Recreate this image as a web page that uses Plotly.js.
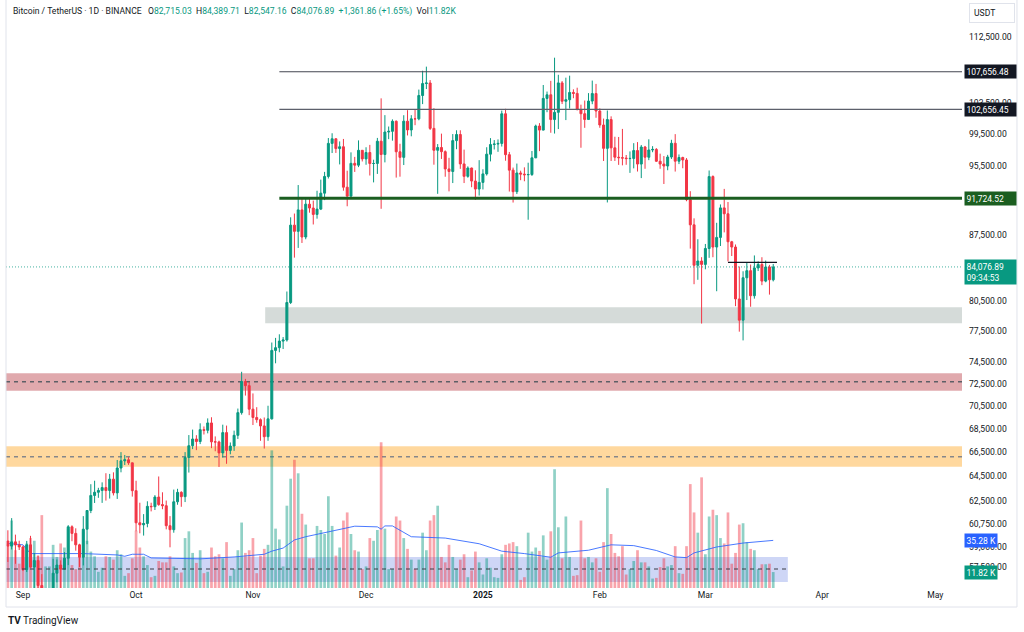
<!DOCTYPE html>
<html>
<head>
<meta charset="utf-8">
<script src="https://cdn.plot.ly/plotly-3.0.1.min.js"></script>
<style>
html,body{margin:0;padding:0;background:#fff;}
#chart{width:1024px;height:632px;}
</style>
</head>
<body>
<div id="chart"></div>
<script>
// ---------- DATA (BTC/USDT, 1D, Binance) ----------
const dates = [
"2024-08-28","2024-08-29","2024-08-30","2024-08-31",
"2024-09-01","2024-09-02","2024-09-03","2024-09-04","2024-09-05","2024-09-06","2024-09-07","2024-09-08","2024-09-09","2024-09-10","2024-09-11","2024-09-12","2024-09-13","2024-09-14","2024-09-15","2024-09-16","2024-09-17","2024-09-18","2024-09-19","2024-09-20","2024-09-21","2024-09-22","2024-09-23","2024-09-24","2024-09-25","2024-09-26","2024-09-27","2024-09-28","2024-09-29","2024-09-30",
"2024-10-01","2024-10-02","2024-10-03","2024-10-04","2024-10-05","2024-10-06","2024-10-07","2024-10-08","2024-10-09","2024-10-10","2024-10-11","2024-10-12","2024-10-13","2024-10-14","2024-10-15","2024-10-16","2024-10-17","2024-10-18","2024-10-19","2024-10-20","2024-10-21","2024-10-22","2024-10-23","2024-10-24","2024-10-25","2024-10-26","2024-10-27","2024-10-28","2024-10-29","2024-10-30","2024-10-31",
"2024-11-01","2024-11-02","2024-11-03","2024-11-04","2024-11-05","2024-11-06","2024-11-07","2024-11-08","2024-11-09","2024-11-10","2024-11-11","2024-11-12","2024-11-13","2024-11-14","2024-11-15","2024-11-16","2024-11-17","2024-11-18","2024-11-19","2024-11-20","2024-11-21","2024-11-22","2024-11-23","2024-11-24","2024-11-25","2024-11-26","2024-11-27","2024-11-28","2024-11-29","2024-11-30",
"2024-12-01","2024-12-02","2024-12-03","2024-12-04","2024-12-05","2024-12-06","2024-12-07","2024-12-08","2024-12-09","2024-12-10","2024-12-11","2024-12-12","2024-12-13","2024-12-14","2024-12-15","2024-12-16","2024-12-17","2024-12-18","2024-12-19","2024-12-20","2024-12-21","2024-12-22","2024-12-23","2024-12-24","2024-12-25","2024-12-26","2024-12-27","2024-12-28","2024-12-29","2024-12-30","2024-12-31",
"2025-01-01","2025-01-02","2025-01-03","2025-01-04","2025-01-05","2025-01-06","2025-01-07","2025-01-08","2025-01-09","2025-01-10","2025-01-11","2025-01-12","2025-01-13","2025-01-14","2025-01-15","2025-01-16","2025-01-17","2025-01-18","2025-01-19","2025-01-20","2025-01-21","2025-01-22","2025-01-23","2025-01-24","2025-01-25","2025-01-26","2025-01-27","2025-01-28","2025-01-29","2025-01-30","2025-01-31",
"2025-02-01","2025-02-02","2025-02-03","2025-02-04","2025-02-05","2025-02-06","2025-02-07","2025-02-08","2025-02-09","2025-02-10","2025-02-11","2025-02-12","2025-02-13","2025-02-14","2025-02-15","2025-02-16","2025-02-17","2025-02-18","2025-02-19","2025-02-20","2025-02-21","2025-02-22","2025-02-23","2025-02-24","2025-02-25","2025-02-26","2025-02-27","2025-02-28",
"2025-03-01","2025-03-02","2025-03-03","2025-03-04","2025-03-05","2025-03-06","2025-03-07","2025-03-08","2025-03-09","2025-03-10","2025-03-11","2025-03-12","2025-03-13","2025-03-14","2025-03-15","2025-03-16","2025-03-17","2025-03-18","2025-03-19"
];
const opens = [
59415,59035,59355,59120,
58974,57301,59132,57487,57971,56160,53962,54160,54869,57042,57635,57338,58132,60498,59993,59132,58213,60313,61759,62947,63201,63348,63578,63339,64262,63152,65173,65769,65858,65602,
63327,60805,60649,60752,62086,62058,62819,62224,62134,60582,60275,62445,63193,62851,66046,67042,67612,67399,68418,68362,69001,67367,67361,66432,68161,66642,67014,67929,69907,72720,72339,
70215,69482,69289,68741,67811,69359,75640,75904,76538,76649,80370,88647,87952,90375,87325,91032,90587,89855,90464,92310,94286,98317,98892,97672,97900,93010,91965,95863,95643,97460,
96407,97185,95840,95849,98587,96945,99740,99831,101109,97276,96593,101125,100003,101424,101420,104464,106058,106133,100204,97461,97805,97291,95186,94881,98663,99429,95792,94299,95300,93738,92792,
93577,94592,96984,98174,98236,98314,102078,96922,95043,92484,94701,94566,94488,94516,96534,100505,99987,104078,104556,101331,102260,106143,103706,103910,104870,104746,102620,102082,101335,103733,104722,
102429,100635,97700,101328,97763,96612,96554,96506,96444,96462,97430,95778,97869,96608,97500,97569,96118,95780,95539,96635,98334,96125,96577,96273,91552,88680,84250,84708,
84349,86064,94270,86220,87281,90606,89931,86801,86222,80734,78595,82932,83680,81066,83969,84343,82579,84075,82715.03
];
const highs = [
60230,61166,59900,59440,
59070,59425,59809,58520,58327,56976,54850,55318,58088,58044,57981,58588,60625,60610,60381,59210,61320,61786,63850,64133,63559,64000,64745,64688,64817,65839,66498,66260,66076,65618,
64130,62371,61477,62484,62370,62975,64478,63200,62543,61320,63417,63480,63285,66500,67950,68424,67939,68969,68694,69400,69500,67836,67470,68850,68771,67317,68332,70270,73620,72961,72700,
71632,70392,69400,69480,70522,76400,76849,77199,76932,81500,89530,89956,93265,91790,91850,91779,91449,92594,93905,94831,98988,99588,98949,98564,98871,94973,97208,96650,98693,97463,
97836,98130,96305,99000,104088,101898,100439,101351,101215,98270,101888,102540,101895,102650,105250,107793,108353,106524,102800,98233,99540,97448,96538,99487,99963,99963,97544,95500,95340,95024,96250,
95150,97839,98976,98734,98813,102482,102724,97258,95349,95836,94977,95378,95940,97371,100681,100873,105865,104988,106422,109588,107240,106394,106850,107120,105286,105500,103260,103800,104782,106457,106012,
102783,101456,102500,101745,99149,99120,100137,96880,97323,98345,98478,98119,98000,98826,97972,97732,97046,96753,96899,98766,99475,96950,96671,96503,92540,89414,87078,85120,
86558,95000,94416,88911,91000,92810,91283,86897,86500,84123,83617,84539,84336,85309,84672,85116,84756,84300,84389.71
];
const lows = [
57860,58786,57726,58745,
57200,57128,57415,55606,55643,52550,53745,53629,54591,56386,55545,57324,57632,59400,58696,57494,57610,59174,61555,62350,62758,62357,62538,62700,62947,62670,64819,65422,65432,62856,
60164,60000,59828,60459,61689,61798,62128,61860,60300,58946,60046,62210,62050,62422,64800,66750,66666,67177,68000,68100,66835,66571,65260,66048,65522,66314,66601,67617,69730,71436,69685,
68820,69020,67458,66800,67458,69298,74416,75466,75773,76492,80216,85072,86127,86668,87073,90056,88722,89376,90357,91500,94040,97122,97136,95734,92600,90791,91792,94827,95407,96092,
95693,94395,93578,94587,90500,95981,98844,98657,94150,94256,95658,99311,99205,100610,101237,103333,105321,100000,95700,92232,96398,94250,92520,93500,97595,95199,93500,94133,93009,91530,92033,
92743,94393,96100,97562,97271,97926,96181,92500,91220,92206,93840,93712,89256,94346,96500,97356,99951,102278,99651,99550,100119,103339,101262,102750,104106,102520,97777,100272,101328,103320,101560,
100279,96150,91231,96150,96155,95676,95620,95688,94713,95256,94876,94088,95205,96252,97223,96040,95205,93389,95030,96400,94871,95771,95270,91371,86050,82256,82716,78258,
83824,85050,85117,81529,86334,87836,84667,85248,80000,77459,76606,80622,79940,80767,83639,82157,82457,81180,82547.16
];
const closes = [
59035,59355,59120,58974,
57301,59132,57487,57971,56160,53962,54160,54869,57042,57635,57338,58132,60498,59993,59132,58213,60313,61759,62947,63201,63348,63578,63339,64262,63152,65173,65769,65858,65602,63327,
60805,60649,60752,62086,62058,62819,62224,62134,60582,60275,62445,63193,62851,66046,67042,67612,67399,68418,68362,69001,67367,67361,66432,68161,66642,67014,67929,69907,72720,72339,70215,
69482,69289,68741,67811,69359,75640,75904,76538,76649,80370,88647,87952,90375,87325,91032,90587,89855,90464,92310,94286,98317,98892,97672,97900,93010,91965,95863,95643,97460,96407,
97185,95840,95849,98587,96945,99740,99831,101109,97276,96593,101125,100003,101424,101420,104464,106058,106133,100204,97461,97805,97291,95186,94881,98663,99429,95792,94299,95300,93738,92792,93577,
94592,96984,98174,98236,98314,102078,96922,95043,92484,94701,94566,94488,94516,96534,100505,99987,104078,104556,101331,102260,106143,103706,103910,104870,104746,102620,102082,101335,103733,104722,102429,
100635,97700,101328,97763,96612,96554,96506,96444,96462,97430,95778,97869,96608,97500,97569,96118,95780,95539,96635,98334,96125,96577,96273,91552,88680,84250,84708,84349,
86064,94270,86220,87281,90606,89931,86801,86222,80734,78595,82932,83680,81066,83969,84343,82579,84075,82715.03,84076.89
];
// volume in thousands of BTC
const volumes = [
33,50,28,18,
28,33,37,35,24,54,16,16,32,23,33,30,44,17,14,27,42,35,27,23.5,12,15,23.5,23,21,28,25,9,11,22,
42.5,30,23.5,17,8,9,20,19,19,23.5,16,11,11.5,37,42,26,18.6,28,11,12,30,23.5,25,22,34,9,14,28,48.5,26,28,
37,11,24,29,32,102,44,36,16,61,81,95,85,55,47,22,22,46,43,40,68,46,24,30,50,56,40,28,27,14,
16,37,35,43,108,44,14,14,53,50,37,29,21,14,21,41,28,50,54,61,23,19,32,23,14,21,25,8,13,27,19,
10,22,15,8,7.5,25,32,33,34,31,6,8,41,27,30,27.5,39,21,42,88,45,22,53,23,9,9.5,50,22,23,19,22,
12,34,74,40,26,23.5,31,10,14,20,28,19,19,16,7,7.5,15.5,22,16,17,31,11,10.5,31,77,56,41,82,
25,53,58,54,37,33,56,18,26,47,48,34,29,28,14,17.6,17.6,18,11.82
];
// volume moving average (thousands)
const maDates = ["2024-08-28","2024-09-01","2024-09-03","2024-09-08","2024-09-17","2024-09-26","2024-09-28","2024-09-30","2024-10-03","2024-10-05","2024-10-10","2024-10-18","2024-10-27","2024-11-04","2024-11-06","2024-11-09","2024-11-12","2024-11-15","2024-11-21","2024-11-28","2024-12-04","2024-12-05","2024-12-06","2024-12-08","2024-12-13","2024-12-22","2024-12-31","2025-01-06","2025-01-12","2025-01-18","2025-01-19","2025-01-21","2025-01-29","2025-02-04","2025-02-10","2025-02-16","2025-02-21","2025-02-24","2025-02-26","2025-03-04","2025-03-11","2025-03-19"];
const maValues = [33,32,25.5,25.5,25.5,24.5,23.5,25,25,22.3,22,21.6,23,25,27.3,29.6,35.6,38,41.6,45.8,45.3,43.6,46,46,38,37,32.8,27.3,25.5,22.8,22.8,26,28,32,31.4,27.8,23,22.5,26,30.4,33.3,35.28];

// price-scale ticks (levels hidden under the price labels are left out) and time-axis ticks
const priceTicks = [57500,59000,60750,62500,64500,66500,68500,70500,72500,74500,77500,80500,87500,95500,99500,103500,112500];
const monthTicks = ["2024-09-01","2024-10-01","2024-11-01","2024-12-01","2025-01-01","2025-02-01","2025-03-01","2025-04-01","2025-05-01"];
const monthLabels = ["Sep","Oct","Nov","Dec","<b>2025</b>","Feb","Mar","Apr","May"];

// drawn levels and zones
const resistanceTop = 107656.48;
const resistanceMid = 102656.45;
const supportLevel = 91724.52;
const shortLevel = 84570;
const grayZone = [78290, 79890];
const redZone = [71880, 73480, 72700];
const orangeZone = [65280, 66990, 66120];
const blueZone = [56410, 58230, 57350];
const remainingTime = "09:34:53";

// ---------- CHART ----------
const UP = '#089981', DOWN = '#f23645', TXT = '#131722';
const FONT = 'Roboto, "Liberation Sans", sans-serif';
const fmt = v => v.toLocaleString('en-US', {minimumFractionDigits: 2, maximumFractionDigits: 2});
const n = closes.length;
const lastClose = closes[n-1];
const prevClose = closes[n-2];
const chg = lastClose - prevClose;
const chgPct = chg / prevClose * 100;

const volColors = closes.map((c, i) => c >= opens[i] ? 'rgba(8,153,129,0.45)' : 'rgba(242,54,69,0.45)');

const traces = [
  {type:'bar', x:dates, y:volumes, xaxis:'x', yaxis:'y', marker:{color:volColors, line:{width:0}},
   width: 0.72*86400000, hoverinfo:'skip'},
  {type:'scatter', mode:'lines', x:maDates, y:maValues, xaxis:'x', yaxis:'y',
   line:{color:'#2962ff', width:1}, opacity:0.85, hoverinfo:'skip'},
  {type:'candlestick', x:dates, open:opens, high:highs, low:lows, close:closes, xaxis:'x', yaxis:'y2',
   increasing:{line:{color:UP, width:1}, fillcolor:UP},
   decreasing:{line:{color:DOWN, width:1}, fillcolor:DOWN},
   whiskerwidth:0, hoverinfo:'skip'}
];

const xStart = '2024-08-27 12:00', xEnd = '2025-05-08 01:40';
function rect(x0, x1, y0, y1, fill) {
  return {type:'rect', xref:'x', yref:'y2', x0:x0, x1:x1, y0:y0, y1:y1, fillcolor:fill, line:{width:0}, layer:'below'};
}
function hline(x0, x1, y, color, width, dash, layer) {
  return {type:'line', xref:'x', yref:'y2', x0:x0, x1:x1, y0:y, y1:y, line:{color:color, width:width, dash:dash||'solid'}, layer:layer||'above'};
}
const rightEdge = xEnd;
const shapes = [
  rect('2024-11-04 06:00', rightEdge, grayZone[0], grayZone[1], 'rgba(178,190,186,0.55)'),
  rect(xStart, rightEdge, redZone[0], redZone[1], 'rgba(178,40,51,0.40)'),
  hline(xStart, rightEdge, redZone[2], '#5d5f66', 1.5, '4px,4px', 'below'),
  rect(xStart, rightEdge, orangeZone[0], orangeZone[1], 'rgba(255,152,0,0.38)'),
  hline(xStart, rightEdge, orangeZone[2], '#85868a', 1.5, '4px,4px', 'below'),
  rect(xStart, '2025-03-22 21:00', blueZone[0], blueZone[1], 'rgba(60,90,220,0.25)'),
  hline(xStart, '2025-03-22 21:00', blueZone[2], '#3a3d46', 1.2, '4px,4px', 'above'),
  hline('2024-11-08', rightEdge, resistanceTop, '#434651', 1.2),
  hline('2024-11-08', rightEdge, resistanceMid, '#5d606b', 1.2),
  hline('2024-11-08', rightEdge, supportLevel, '#1b5e20', 3),
  hline('2025-03-07', '2025-03-20', shortLevel, '#131722', 1.2),
  hline(xStart, rightEdge, lastClose, 'rgba(8,153,129,0.75)', 1, '1px,2px'),
  // widget frame
  {type:'line', xref:'paper', yref:'paper', x0:0, x1:0, y0:1.002, y1:-0.0324, line:{color:'#e0e3eb', width:1}},
  {type:'line', xref:'paper', yref:'paper', x0:0, x1:1.0575, y0:-0.0324, y1:-0.0324, line:{color:'#e0e3eb', width:1}},
  {type:'line', xref:'paper', yref:'paper', x0:1.0575, x1:1.0575, y0:1.002, y1:-0.0324, line:{color:'#e0e3eb', width:1}}
];

function priceLabel(v, bg, extra) {
  return {xref:'paper', yref:'y2', x:1, y:Math.log10(v), xanchor:'left', yanchor:'middle', xshift:2,
    text: extra ? fmt(v) + '<br>' + extra : fmt(v), showarrow:false, align:'left',
    font:{family:FONT, size:8.5, color:'#ffffff'}, bgcolor:bg, borderpad:1.5, width:48,
    yshift: extra ? -5 : 0};
}
function volLabel(v, bg) {
  return {xref:'paper', yref:'y', x:1, y:v, xanchor:'left', yanchor:'middle', xshift:2,
    text: v.toFixed(2) + ' K', showarrow:false, align:'left',
    font:{family:FONT, size:8.5, color:'#ffffff'}, bgcolor:bg, borderpad:1.5};
}
const g = s => '<span style="color:' + UP + '">' + s + '</span>';
const legendText = 'Bitcoin / TetherUS · 1D · BINANCE&nbsp;&nbsp;&nbsp;O' + g(fmt(opens[n-1])) +
  '&nbsp;&nbsp;H' + g(fmt(highs[n-1])) + '&nbsp;&nbsp;L' + g(fmt(lows[n-1])) +
  '&nbsp;&nbsp;C' + g(fmt(lastClose)) + '&nbsp;&nbsp;' + g((chg >= 0 ? '+' : '') + fmt(chg) + ' (' + (chg >= 0 ? '+' : '') + chgPct.toFixed(2) + '%)') +
  '&nbsp;&nbsp;Vol' + g(volumes[n-1].toFixed(2) + 'K');

const annotations = [
  {xref:'paper', yref:'paper', x:0, y:1, xanchor:'left', yanchor:'top', xshift:5, yshift:-3,
   text:legendText, showarrow:false, font:{family:FONT, size:8.6, color:TXT}, align:'left'},
  {xref:'paper', yref:'paper', x:1, y:1, xanchor:'left', yanchor:'top', xshift:7, yshift:-2,
   text:'USDT', showarrow:false, font:{family:FONT, size:8.6, color:TXT}, bgcolor:'#ffffff',
   bordercolor:'#e0e3eb', borderwidth:1, borderpad:4, width:36, align:'left'},
  priceLabel(resistanceTop, '#131722'),
  priceLabel(resistanceMid, '#131722'),
  priceLabel(supportLevel, '#1b5e20'),
  priceLabel(lastClose, UP, remainingTime),
  volLabel(maValues[maValues.length-1], '#2962ff'),
  volLabel(volumes[n-1], UP),
  {xref:'paper', yref:'paper', x:0, y:-0.055, xanchor:'left', yanchor:'middle', xshift:0,
   text:'<b>TV</b> TradingView', showarrow:false, font:{family:FONT, size:10, color:TXT}}
];

const layout = {
  width:1024, height:632,
  margin:{l:6, r:62, t:1, b:44, pad:0},
  paper_bgcolor:'#ffffff', plot_bgcolor:'#ffffff',
  showlegend:false, hovermode:false, dragmode:false,
  boxgap:0.25,
  font:{family:FONT, color:TXT},
  xaxis:{type:'date', range:[xStart, xEnd], showgrid:false, zeroline:false, showline:false,
    rangeslider:{visible:false}, tickmode:'array', tickvals:monthTicks, ticktext:monthLabels,
    ticks:'', tickfont:{family:FONT, size:8.6, color:TXT}, fixedrange:true},
  yaxis:{range:[0, 435], visible:false, showgrid:false, zeroline:false, fixedrange:true},
  yaxis2:{type:'log', overlaying:'y', side:'right', range:[4.74807, 5.07095],
    tickmode:'array', tickvals:priceTicks, ticktext:priceTicks.map(fmt),
    showgrid:false, zeroline:false, showline:false, ticks:'', ticklabelstandoff:6,
    tickfont:{family:FONT, size:8.6, color:TXT}, fixedrange:true},
  shapes:shapes,
  annotations:annotations
};

Plotly.newPlot('chart', traces, layout, {displayModeBar:false, staticPlot:true});
</script>
</body>
</html>
